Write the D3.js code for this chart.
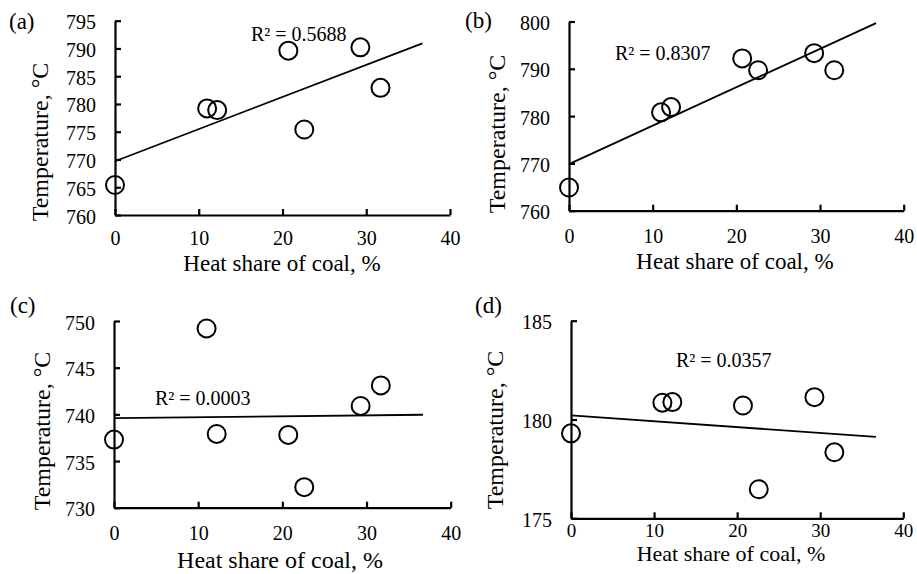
<!DOCTYPE html>
<html>
<head>
<meta charset="utf-8">
<script src="https://cdn.jsdelivr.net/npm/d3@7"></script>
<style>
  body { margin: 0; background: #fff; }
  svg { display: block; }
  text { font-family: "Liberation Serif", "Times New Roman", serif; fill: #000; }
</style>
</head>
<body>
<svg id="chart" width="917" height="574"></svg>
<script>
// heat share of coal (%) shared by all four panels
const heatShare = [0, 11.0, 12.2, 20.7, 22.6, 29.3, 31.7];

// temperatures (°C)
const tempA = [765.4, 779.2, 778.9, 789.6, 775.4, 790.2, 782.9];
const tempB = [764.9, 780.8, 781.9, 792.2, 789.7, 793.3, 789.7];
const tempC = [737.3, 749.2, 737.9, 737.8, 732.2, 740.9, 743.1];
const tempD = [179.3, 180.85, 180.88, 180.71, 176.47, 181.13, 178.34];

const panelLabels = ["(a)", "(b)", "(c)", "(d)"];
const rSquared = ["0.5688", "0.8307", "0.0003", "0.0357"];
const yDomains = [[760, 795], [760, 800], [730, 750], [175, 185]];
const yTickSteps = [5, 10, 5, 5];
const xTicks = [0, 10, 20, 30, 40];

// layout of each panel (pixels)
const panels = [
  { temps: tempA, x0: 115, x1: 450, yTop: 20.7, yBot: 215, tickY: 245, tickFs: 20, titleY: 271, titleX: 282, titleFs: 23,
    yTitleX: 48, yTitleY: 142, labelX: 9, labelY: 29, rX: 251, rY: 41 },
  { temps: tempB, x0: 569, x1: 903.7, yTop: 21.5, yBot: 210.7, tickY: 243, tickFs: 20, titleY: 269, titleX: 735, titleFs: 23,
    yTitleX: 505, yTitleY: 134, labelX: 465, labelY: 28, rX: 615, rY: 60 },
  { temps: tempC, x0: 114, x1: 450.7, yTop: 321, yBot: 507.7, tickY: 540, tickFs: 20, titleY: 568, titleX: 280, titleFs: 24,
    yTitleX: 50, yTitleY: 431, labelX: 10, labelY: 313, rX: 155, rY: 405 },
  { temps: tempD, x0: 571, x1: 903.3, yTop: 320.7, yBot: 518.3, tickY: 537, tickFs: 19, titleY: 561, titleX: 731, titleFs: 22,
    yTitleX: 503, yTitleY: 430, labelX: 475, labelY: 313, rX: 676, rY: 367 }
];

const svg = d3.select("#chart");

// least squares fit, like the Excel linear trendline
function linearFit(xs, ys) {
  const mx = d3.mean(xs), my = d3.mean(ys);
  let sxy = 0, sxx = 0;
  xs.forEach((x, i) => { sxy += (x - mx) * (ys[i] - my); sxx += (x - mx) * (x - mx); });
  const slope = sxy / sxx;
  return { slope, intercept: my - slope * mx };
}

panels.forEach((p, i) => {
  const g = svg.append("g");
  const [y0, y1] = yDomains[i];

  const x = d3.scaleLinear().domain([0, 40]).range([p.x0, p.x1]);
  const y = d3.scaleLinear().domain([y0, y1]).range([p.yBot, p.yTop]);
  const yTicks = d3.range(y0, y1 + 0.001, yTickSteps[i]);

  // x axis
  const xAxis = g.append("g")
    .attr("transform", `translate(0,${p.yBot})`)
    .call(d3.axisBottom(x).tickValues(xTicks).tickSizeInner(-6).tickSizeOuter(0).tickFormat(d3.format("d")));
  xAxis.selectAll("path, line").attr("stroke", "#000").attr("stroke-width", 2.2);
  xAxis.selectAll("text")
    .attr("y", p.tickY - p.yBot).attr("dy", 0)
    .style("font-size", p.tickFs + "px").style("font-family", "Liberation Serif");

  // y axis
  const yAxis = g.append("g")
    .attr("transform", `translate(${p.x0},0)`)
    .call(d3.axisLeft(y).tickValues(yTicks).tickSizeInner(-6).tickSizeOuter(0).tickFormat(d3.format("d")));
  yAxis.selectAll("path, line").attr("stroke", "#000").attr("stroke-width", 2.2);
  yAxis.selectAll("text")
    .attr("x", -19).attr("dy", "0.4em")
    .style("font-size", "20px").style("font-family", "Liberation Serif");

  // trendline, forecast forward 5 units
  const fit = linearFit(heatShare, p.temps);
  const xEnd = d3.max(heatShare) + 5;
  const line = d3.line().x(d => x(d)).y(d => y(fit.intercept + fit.slope * d));
  g.append("path")
    .datum([0, xEnd])
    .attr("d", line)
    .attr("fill", "none")
    .attr("stroke", "#000")
    .attr("stroke-width", 1.8);

  // points
  g.selectAll("circle")
    .data(heatShare.map((h, k) => ({ h, t: p.temps[k] })))
    .join("circle")
    .attr("cx", d => x(d.h))
    .attr("cy", d => y(d.t))
    .attr("r", 9)
    .attr("fill", "none")
    .attr("stroke", "#000")
    .attr("stroke-width", 2);

  // axis titles
  g.append("text")
    .attr("x", p.titleX).attr("y", p.titleY)
    .attr("text-anchor", "middle")
    .style("font-size", p.titleFs + "px")
    .text("Heat share of coal, %");

  g.append("text")
    .attr("transform", `translate(${p.yTitleX},${p.yTitleY}) rotate(-90)`)
    .attr("text-anchor", "middle")
    .style("font-size", "24px")
    .text("Temperature, °C");

  // panel letter
  g.append("text")
    .attr("x", p.labelX).attr("y", p.labelY)
    .style("font-size", "23px")
    .text(panelLabels[i]);

  // R² label
  g.append("text")
    .attr("x", p.rX).attr("y", p.rY)
    .style("font-size", "20px")
    .text("R² = " + rSquared[i]);
});
</script>
</body>
</html>
